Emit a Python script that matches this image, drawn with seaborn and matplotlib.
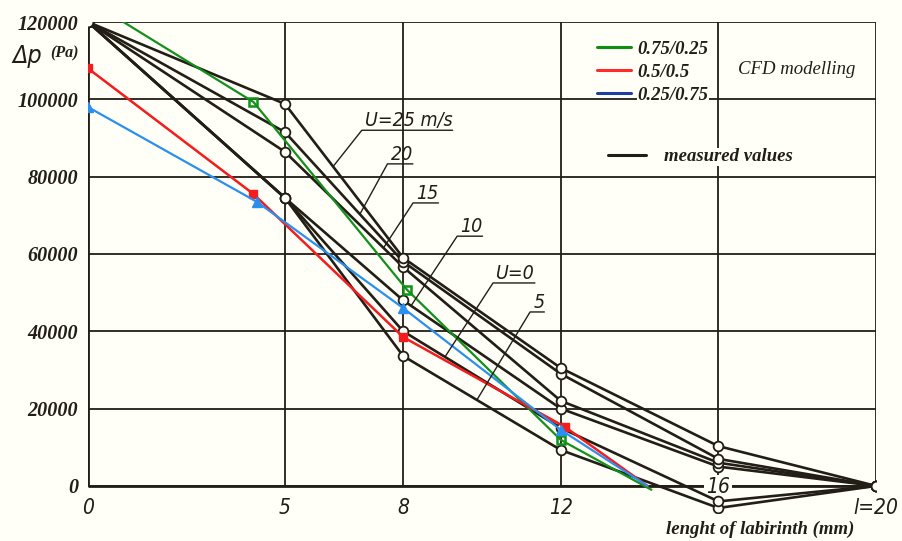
import numpy as np
import pandas as pd
import matplotlib.pyplot as plt
import seaborn as sns
from matplotlib.lines import Line2D
from matplotlib.font_manager import FontProperties

# ---- data --------------------------------------------------------------
# measured values, length of labyrinth (mm) vs pressure drop (Pa)
x_meas = [0, 5, 8, 12, 16, 20]
u_labels = ["U=25 m/s", "20", "15", "10", "U=0", "5"]
dp_u25 = [120000, 98800, 59000, 30500, 10300, 0]
dp_u20 = [120000, 91500, 58000, 29000, 7000, 0]
dp_u15 = [120000, 86400, 56600, 22000, 6000, 0]
dp_u10 = [120000, 74500, 48000, 20000, 5000, 0]
dp_u0 = [120000, 74500, 40000, 15000, -4000, 0]
dp_u5 = [120000, 74500, 33600, 9300, -5700, 0]
dp_meas = [dp_u25, dp_u20, dp_u15, dp_u10, dp_u0, dp_u5]

# CFD modelling
cfd_labels = ["0.75/0.25", "0.5/0.5", "0.25/0.75"]
x_green = [0.9, 4.2, 8.1, 12.0, 14.3]
dp_green = [120000, 99300, 50700, 11900, -1000]
x_red = [0, 4.2, 8.0, 12.1, 14.2]
dp_red = [108000, 75500, 38500, 15300, 0]
x_blue = [0, 4.3, 8.0, 12.0, 14.2]
dp_blue = [98000, 73400, 46000, 14500, 0]

x_ticks = [0, 5, 8, 12, 16, 20]
x_ticklabels = ["0", "5", "8", "12", "", "l=20"]
y_ticks = [0, 20000, 40000, 60000, 80000, 100000, 120000]

# ---- style ---------------------------------------------------------------
BG = "#fffff7"
INK = "#221e15"
GREEN, RED, BLUE = "#12901a", "#f41c1c", "#2b8ff0"
LEG_COLORS = ["#0f8f0f", "#ff2a2a", "#1e3f9e"]

sns.set_style("white")
plt.rcParams["font.family"] = ["DejaVu Sans"]

serif_bi = dict(family="Liberation Serif", style="italic", weight="bold")
hand = dict(family="DejaVu Sans", style="oblique", stretch="condensed")

fig = plt.figure(figsize=(9.03, 5.41), dpi=100, facecolor=BG)
ax = fig.add_axes([88 / 903, 28 / 541, 788 / 903, 491 / 541], facecolor=BG)
ax.set_xlim(0, 20)
ax.set_ylim(-7000, 120000)

# paper grid / frame
ax.hlines(y_ticks, 0, 20, color=INK, lw=1.3, zorder=1)
ax.vlines(x_ticks, 0, 120000, color=INK, lw=1.3, zorder=1)
ax.vlines([0], 0, 120000, color=INK, lw=2, zorder=1)
ax.hlines([0], 0, 20, color=INK, lw=2, zorder=1)

# measured curves
df_meas = pd.DataFrame({
    "x": x_meas * len(dp_meas),
    "dp": np.concatenate(dp_meas),
    "U": np.repeat(u_labels, len(x_meas)),
})
sns.lineplot(data=df_meas, x="x", y="dp", units="U", estimator=None,
             color=INK, lw=1.9, marker="o", ms=7, mfc=BG, mec=INK, mew=1.3,
             ax=ax, zorder=3)

# CFD curves
sns.lineplot(x=x_green, y=dp_green, estimator=None, color=GREEN, lw=1.6,
             marker="s", ms=6, mfc="none", mec=GREEN, mew=1.8,
             markevery=[1, 2, 3], ax=ax, zorder=4)
sns.lineplot(x=x_red, y=dp_red, estimator=None, color=RED, lw=1.8,
             marker="s", ms=6, mfc=RED, mec=RED, mew=1,
             markevery=[0, 1, 2, 3], ax=ax, zorder=4)
sns.lineplot(x=x_blue, y=dp_blue, estimator=None, color=BLUE, lw=1.6,
             marker="^", ms=7, mfc=BLUE, mec=BLUE, mew=1,
             markevery=[0, 1, 2, 3], ax=ax, zorder=4)

# curve labels with underline + leader line
label_x = [6.95, 7.6, 8.25, 9.37, 10.28, 11.22]
label_y = [92000, 83300, 73200, 64600, 52500, 45000]
leader_x = [6.22, 6.9, 7.5, 8.2, 9.06, 9.87]
for lab, dp, tx, ty, lx in zip(u_labels, dp_meas, label_x, label_y, leader_x):
    xy = (lx, np.interp(lx, x_meas, dp))
    a = ax.transData.transform((tx, ty))
    b = ax.transData.transform(xy)
    ang = np.degrees(np.arctan2(a[1] - b[1], a[0] - b[0]))
    ax.annotate(lab, xy=xy, xytext=(tx + 0.08, ty), ha="left", va="bottom",
                fontsize=14, color=INK, zorder=5, **hand,
                arrowprops=dict(arrowstyle="-", color=INK, lw=1,
                                connectionstyle=f"angle,angleA=0,angleB={ang},rad=0",
                                relpos=(1, 0), patchA=None, shrinkA=0, shrinkB=0))

# axes, ticks
for s in ax.spines.values():
    s.set_visible(False)
ax.spines["bottom"].set_position(("data", 0))
ax.set_xticks(x_ticks)
ax.set_xticklabels(x_ticklabels, fontsize=15, color=INK, **hand)
ax.set_xticks([i for i in range(21) if i not in x_ticks], minor=True)
ax.tick_params(axis="x", which="major", length=0, pad=9)
ax.tick_params(axis="x", which="minor", direction="in", length=5, width=1.3, color=INK)
ax.text(16, -300, "16", ha="center", va="center", fontsize=15, color=INK, zorder=2.6,
        bbox=dict(fc=BG, ec="none", pad=1.5), **hand)

ax.set_yticks(y_ticks)
ax.set_yticklabels([str(v) for v in y_ticks], fontsize=14.5, color=INK, **serif_bi)
ax.tick_params(axis="y", length=0, pad=7)

ax.set_xlabel("lenght of labirinth (mm)", fontsize=13.5, color=INK, **serif_bi)
ax.xaxis.set_label_coords(0.853, -0.033)
ax.xaxis.label.set_va("center")
ax.set_ylabel("")
fig.text(27 / 903, 1 - 56 / 541, "Δp", fontsize=18, color=INK, ha="center", va="center", **hand)
fig.text(64 / 903, 1 - 53 / 541, "(Pa)", fontsize=11.5, color=INK, ha="center", va="center", **serif_bi)

# legend box (CFD modelling / measured values)
leg_font = FontProperties(size=13.5, **serif_bi)
h_cfd = [Line2D([], [], color=c, lw=2.2) for c in LEG_COLORS]
leg1 = ax.legend(h_cfd, cfd_labels, loc="upper left", bbox_to_anchor=(0.646, 0.962),
                 frameon=False, prop=leg_font, handlelength=1.8, handletextpad=0.35,
                 labelspacing=0.32, borderpad=0, borderaxespad=0)
for t in leg1.get_texts():
    t.set_color(INK)
    t.set_bbox(dict(fc=BG, ec="none", pad=0.5))
ax.add_artist(leg1)
ax.text(0.8997, 0.904, "CFD modelling", transform=ax.transAxes, ha="center", va="center",
        fontsize=13.5, color=INK, family="Liberation Serif", style="italic")
leg2 = ax.legend([Line2D([], [], color=INK, lw=2.2)], ["measured values"], loc="upper left",
                 bbox_to_anchor=(0.66, 0.743), frameon=False, prop=leg_font,
                 handlelength=2.0, handletextpad=1.0, borderpad=0, borderaxespad=0)
for t in leg2.get_texts():
    t.set_color(INK)
    t.set_bbox(dict(fc=BG, ec="none", pad=0.5))

fig.savefig("out.png", dpi=100, facecolor=BG)
